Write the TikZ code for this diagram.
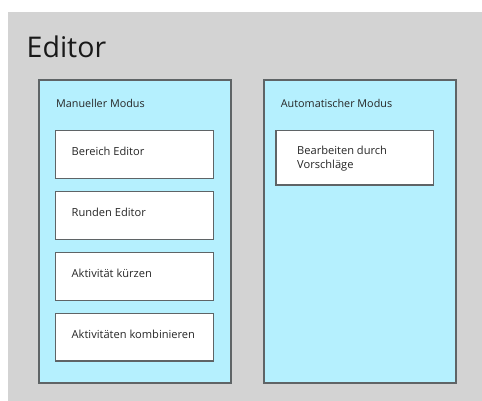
\documentclass[tikz,border=0pt]{standalone}
\usepackage{fontspec}
\setmainfont{Open Sans}
\begin{document}
\begin{tikzpicture}[x=1pt,y=-1pt,
  bgcol/.style={fill=bggray, draw=none},
  panel/.style={fill=panelcyan, draw=edgegray, line width=1.2pt},
  itembox/.style={fill=white, draw=edgegray, line width=1.2pt},
  paneltitle/.style={anchor=base west, inner sep=0pt, text=textgray, font=\fontsize{10.8}{13}\selectfont},
  itemtext/.style={anchor=base west, inner sep=0pt, text=textgray, align=left, font=\fontsize{11.1}{14}\selectfont},
]
\definecolor{bggray}{HTML}{D3D3D3}
\definecolor{panelcyan}{HTML}{B5F0FE}
\definecolor{edgegray}{HTML}{5F6466}
\definecolor{textgray}{HTML}{262626}
\useasboundingbox (0,0) rectangle (482,401);
\fill[white] (0,0) rectangle (482,401);
% outer area
\path[bgcol] (8,12) rectangle (482,401);
\node[anchor=base west, inner sep=0pt, text=black!90, font=\fontsize{28.5}{32}\selectfont] (title) at (26.5,57.3) {Editor};

% manual mode panel
\draw[panel] (39,80) rectangle (231,383);
\node[paneltitle] (mtitle) at (56,107.7) {Manueller Modus};
\draw[itembox] (55.7,130.7) rectangle (213.7,178.3);
\node[itemtext] (b1) at (71.5,155.3) {Bereich Editor};
\draw[itembox] (55.7,191.7) rectangle (213.7,239.3);
\node[itemtext] (b2) at (71.5,216.3) {Runden Editor};
\draw[itembox] (55.7,252.7) rectangle (213.7,300.3);
\node[itemtext] (b3) at (71.5,277.3) {Aktivität kürzen};
\draw[itembox] (55.7,313.7) rectangle (213.7,361);
\node[itemtext] (b4) at (71.5,338.3) {Aktivitäten kombinieren};

% automatic mode panel
\draw[panel] (264,80) rectangle (456,383);
\node[paneltitle] (atitle) at (280.7,107.7) {Automatischer Modus};
\draw[itembox] (276,130.7) rectangle (433.7,185);
\node[itemtext] (c1) at (297,154.3) {Bearbeiten durch};
\node[itemtext] (c2) at (297,168.3) {Vorschläge};
\end{tikzpicture}
\end{document}
